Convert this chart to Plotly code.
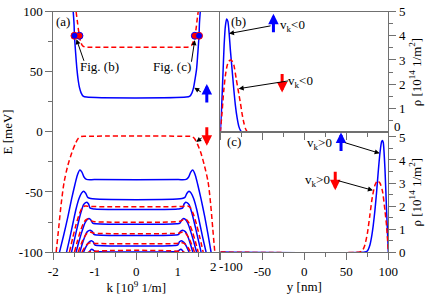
import plotly.graph_objects as go

W, H = 436, 299

# ---------------- Panel (a): E(k) bands ----------------
# spin-up (blue, solid)
up_k = [
    [-1.52, -1.50, -1.49, -1.46, -1.43, -1.40, -1.37, -1.33, -1.28, -1.20, 1.20, 1.29, 1.34, 1.38, 1.41, 1.45, 1.48, 1.51, 1.52, 1.54],
    [-1.85, -1.75, -1.65, -1.56, -1.48, -1.42, -1.36, -1.31, -1.26, -1.20, -1.00, 1.00, 1.20, 1.26, 1.31, 1.36, 1.42, 1.48, 1.56, 1.65, 1.72, 1.80],
    [-1.68, -1.60, -1.52, -1.45, -1.38, -1.32, -1.27, -1.22, -1.17, -1.10, 1.10, 1.17, 1.22, 1.27, 1.32, 1.38, 1.45, 1.52, 1.60, 1.68],
    [-1.56, -1.48, -1.40, -1.33, -1.27, -1.22, -1.19, -1.15, -1.11, -1.00, 1.00, 1.11, 1.15, 1.19, 1.22, 1.27, 1.33, 1.40, 1.48, 1.56],
    [-1.45, -1.38, -1.31, -1.24, -1.18, -1.13, -1.09, -1.05, -0.98, 0.98, 1.05, 1.09, 1.13, 1.18, 1.24, 1.31, 1.38, 1.45],
    [-1.36, -1.30, -1.24, -1.18, -1.11, -1.06, -1.02, -0.95, 0.95, 1.02, 1.06, 1.11, 1.18, 1.24, 1.30, 1.36],
    [-1.27, -1.21, -1.15, -1.08, -1.04, -1.00, -0.93, 0.93, 1.00, 1.04, 1.08, 1.15, 1.21, 1.27],
    [-1.15, -1.11, -1.07, -1.03, -0.98, -0.90, 0.90, 0.98, 1.03, 1.07, 1.11, 1.15],
]
up_E = [
    [100, 90, 80, 65, 52, 43, 37, 32.5, 29.8, 29, 29, 29.8, 32.5, 37, 43, 52, 65, 80, 90, 100],
    [-100, -86, -71, -56, -44, -36, -31.8, -33.5, -37.5, -39.5, -39.7, -39.7, -39.5, -37.5, -33.5, -31.8, -36, -44, -56, -71, -84, -100],
    [-100, -88, -75, -64, -55.5, -51, -49.4, -51, -54.5, -55.5, -55.5, -54.5, -51, -49.4, -51, -55.5, -64, -75, -88, -100],
    [-100, -88, -76, -66.5, -60.5, -58.8, -58.5, -60, -63.5, -64.2, -64.2, -63.5, -60, -58.5, -58.8, -60.5, -66.5, -76, -88, -100],
    [-100, -91, -83, -76, -72.8, -72.2, -73.5, -76, -76.5, -76.5, -76, -73.5, -72.2, -72.8, -76, -83, -91, -100],
    [-100, -93, -87, -83, -81.8, -83, -85.3, -85.8, -85.8, -85.3, -83, -81.8, -83, -87, -93, -100],
    [-100, -95.5, -92, -90.5, -91.5, -94, -94.5, -94.5, -94, -91.5, -90.5, -92, -95.5, -100],
    [-101, -98.6, -97.6, -98.6, -99.6, -99.8, -99.8, -99.6, -98.6, -97.6, -98.6, -101],
]
# spin-down (red, dashed)
dn_k = [
    [-1.45, -1.42, -1.39, -1.37, -1.34, -1.30, -1.24, -1.10, 1.10, 1.26, 1.33, 1.37, 1.41, 1.44, 1.46, 1.49],
    [-1.93, -1.87, -1.81, -1.74, -1.65, -1.55, -1.47, -1.40, -1.33, -1.20, 1.20, 1.33, 1.40, 1.47, 1.55, 1.64, 1.73, 1.79, 1.84, 1.89],
    [-1.61, -1.53, -1.45, -1.37, -1.30, -1.24, -1.18, -1.05, 1.05, 1.18, 1.24, 1.30, 1.37, 1.45, 1.53, 1.61],
    [-1.49, -1.42, -1.35, -1.28, -1.21, -1.15, -1.08, -1.00, 1.00, 1.08, 1.15, 1.21, 1.28, 1.35, 1.42, 1.49],
    [-1.40, -1.33, -1.26, -1.19, -1.12, -1.05, -0.98, 0.98, 1.05, 1.12, 1.19, 1.26, 1.33, 1.40],
    [-1.31, -1.24, -1.17, -1.10, -1.03, -0.96, 0.96, 1.03, 1.10, 1.17, 1.24, 1.31],
    [-1.20, -1.10, 1.10, 1.20],
]
dn_E = [
    [100, 92, 84, 80, 75, 72, 70.7, 70.5, 70.5, 70.7, 72, 75, 80, 86, 92, 100],
    [-100, -80, -60, -42, -28, -17, -10, -5.5, -3.8, -3.6, -3.6, -3.8, -5.5, -10, -17, -28, -42, -60, -80, -100],
    [-100, -88, -77, -68, -63, -61.6, -61.8, -62.1, -62.1, -61.8, -61.6, -63, -68, -77, -88, -100],
    [-100, -91, -83, -76.5, -73, -72.6, -74, -74.7, -74.7, -74, -72.6, -73, -76.5, -83, -91, -100],
    [-100, -93.5, -88, -84.5, -83.4, -84, -84.4, -84.4, -84, -83.4, -84.5, -88, -93.5, -100],
    [-100, -96, -93.2, -92.3, -92.7, -92.9, -92.9, -92.7, -92.3, -93.2, -96, -100],
    [-101, -99.6, -99.6, -101],
]
# marked states at E = 80 meV
dot_up_k = [-1.49, 1.51]
dot_up_E = [80, 80]
dot_dn_k = [-1.37, 1.41]
dot_dn_E = [80, 80]

# ---------------- Panels (b), (c): densities ----------------
b_up_y = [-100, -98.5, -97, -95.5, -94, -92.5, -91, -89.5, -88, -86, -84, -82, -80, -78, -76, -74, 100]
b_up_r = [0, 1.0, 2.3, 3.6, 4.4, 4.7, 4.6, 4.1, 3.4, 2.6, 1.8, 1.1, 0.6, 0.25, 0.08, 0.0, 0]
b_dn_y = [-100, -98, -96, -94, -92, -90, -87, -84, -81, -78, -76, -74, -72, -70, -68, -66, 100]
b_dn_r = [0, 0.8, 1.7, 2.35, 2.75, 2.95, 3.0, 2.8, 2.2, 1.6, 1.2, 0.75, 0.4, 0.15, 0.03, 0, 0]
c_up_y = [-100, 72, 75, 78, 80, 82, 84, 86, 88, 90, 92, 93, 94, 96, 98, 100]
c_up_r = [0, 0, 0.05, 0.3, 0.65, 1.15, 1.8, 2.6, 3.5, 4.3, 4.8, 4.85, 4.75, 3.6, 1.7, 0]
c_dn_y = [-100, 66, 69, 72, 75, 78, 81, 84, 87, 90, 93, 96, 98, 100]
c_dn_r = [0, 0, 0.05, 0.3, 0.8, 1.6, 2.4, 2.9, 3.1, 3.0, 2.65, 1.8, 1.1, 0]

# tick labels
k_ticks = [-2, -1, 0, 1, 2]
k_text = ["-2", "-1", "0", "1", ""]
E_ticks = [-100, -50, 0, 50, 100]
E_text = ["-100", "-50", "0", "50", "100"]
y_ticks = [-100, -50, 0, 50, 100]
y_text = ["", "-50", "0", "50", "100"]
rb_ticks = [1, 2, 3, 4, 5]
rc_ticks = [0, 1, 2, 3, 4, 5]

BLUE = "#0000ff"
RED = "#ff0000"
AX = "#707070"
FONT = "Liberation Serif"
LW = 1.5

fig = go.Figure()
for k, E in zip(up_k, up_E):
    fig.add_trace(go.Scatter(x=k, y=E, mode="lines", line=dict(color=BLUE, width=LW, shape="spline", smoothing=0.8),
                             xaxis="x", yaxis="y", showlegend=False))
for k, E in zip(dn_k, dn_E):
    fig.add_trace(go.Scatter(x=k, y=E, mode="lines", line=dict(color=RED, width=LW, dash="5px,3px", shape="spline", smoothing=0.8),
                             xaxis="x", yaxis="y", showlegend=False))
fig.add_trace(go.Scatter(x=dot_dn_k, y=dot_dn_E, mode="markers", marker=dict(color=RED, size=7, line=dict(color=BLUE, width=1)),
                         xaxis="x", yaxis="y", showlegend=False, cliponaxis=False))
fig.add_trace(go.Scatter(x=dot_up_k, y=dot_up_E, mode="markers", marker=dict(color=BLUE, size=7, line=dict(color=RED, width=1)),
                         xaxis="x", yaxis="y", showlegend=False, cliponaxis=False))

fig.add_trace(go.Scatter(x=b_up_y, y=b_up_r, mode="lines", line=dict(color=BLUE, width=LW, shape="spline", smoothing=0.6),
                         xaxis="x2", yaxis="y2", showlegend=False))
fig.add_trace(go.Scatter(x=b_dn_y, y=b_dn_r, mode="lines", line=dict(color=RED, width=LW, dash="5px,3px", shape="spline", smoothing=0.6),
                         xaxis="x2", yaxis="y2", showlegend=False))
fig.add_trace(go.Scatter(x=c_up_y, y=c_up_r, mode="lines", line=dict(color=BLUE, width=LW, shape="spline", smoothing=0.6),
                         xaxis="x3", yaxis="y3", showlegend=False))
fig.add_trace(go.Scatter(x=c_dn_y, y=c_dn_r, mode="lines", line=dict(color=RED, width=LW, dash="5px,3px", shape="spline", smoothing=0.6),
                         xaxis="x3", yaxis="y3", showlegend=False))

xa = [50 / W, 222 / W]
xb = [223 / W, 397 / W]
ya = [1 - 258 / H, 1 - 5 / H]
yb = [1 - 132 / H, 1 - 5 / H]
yc = [1 - 258 / H, 1 - 132 / H]

tickfont = dict(family=FONT, size=13, color="black")
common = dict(showline=True, linecolor=AX, linewidth=1, mirror=True, ticks="outside", tickcolor=AX,
              ticklen=7, tickwidth=1, showgrid=False, zeroline=False, tickfont=tickfont)

fig.update_layout(
    width=W, height=H, margin=dict(l=0, r=0, t=0, b=0),
    paper_bgcolor="white", plot_bgcolor="white",
    font=dict(family=FONT, size=13, color="black"),
    xaxis=dict(domain=xa, range=[-2, 2], anchor="y", tickmode="array", tickvals=k_ticks, ticktext=k_text,
               minor=dict(tickvals=[-1.5, -0.5, 0.5, 1.5], ticklen=4, ticks="outside", tickcolor=AX),
               title=dict(text="k [10<sup>9</sup> 1/m]", font=dict(family=FONT, size=13), standoff=2), **common),
    yaxis=dict(domain=ya, range=[-100, 100], anchor="x", tickmode="array", tickvals=E_ticks, ticktext=E_text,
               minor=dict(tickvals=[-75, -25, 25, 75], ticklen=4, ticks="outside", tickcolor=AX),
               title=dict(text="E [meV]", font=dict(family=FONT, size=13), standoff=3), **common),
    xaxis2=dict(domain=xb, range=[-100, 100], anchor="y2", tickmode="array", tickvals=y_ticks, showticklabels=False,
                minor=dict(tickvals=[-75, -25, 25, 75], ticklen=4, ticks="outside", tickcolor=AX), **common),
    yaxis2=dict(domain=yb, range=[0, 5], anchor="x2", side="right", tickmode="array", tickvals=rb_ticks,
                minor=dict(tickvals=[0.5, 1.5, 2.5, 3.5, 4.5], ticklen=4, ticks="outside", tickcolor=AX),
                title=dict(text="ρ [10<sup>14</sup> 1/m<sup>2</sup>]", font=dict(family=FONT, size=13), standoff=6), **common),
    xaxis3=dict(domain=xb, range=[-100, 100], anchor="y3", tickmode="array", tickvals=y_ticks, ticktext=y_text,
                minor=dict(tickvals=[-75, -25, 25, 75], ticklen=4, ticks="outside", tickcolor=AX),
                title=dict(text="y [nm]", font=dict(family=FONT, size=13), standoff=2), **common),
    yaxis3=dict(domain=yc, range=[0, 5.2], anchor="x3", side="right", tickmode="array", tickvals=rc_ticks,
                minor=dict(tickvals=[0.5, 1.5, 2.5, 3.5, 4.5], ticklen=4, ticks="outside", tickcolor=AX),
                title=dict(text="ρ [10<sup>14</sup> 1/m<sup>2</sup>]", font=dict(family=FONT, size=13), standoff=6), **common),
)

ann = []
def text(px, py, s, color="black", size=13):
    ann.append(dict(x=px / W, y=1 - py / H, xref="paper", yref="paper", text=s, showarrow=False,
                    font=dict(family=FONT, size=size, color=color), xanchor="center", yanchor="middle"))

def arrow(tx, ty, hx, hy, color="black", width=1, head=2, size=1.0):
    ann.append(dict(x=hx / W, y=1 - hy / H, xref="paper", yref="paper", ax=tx - hx, ay=ty - hy,
                    axref="pixel", ayref="pixel", text="", showarrow=True, arrowhead=head,
                    arrowsize=size, arrowwidth=width, arrowcolor=color, standoff=0, startstandoff=0))

# extra tick labels displaced like the original
text(216, 273, "2")
text(234, 273, "-100")
text(406, 126, "0")

# panel labels
text(60, 15, "(a)")
text(242, 15, "(b)")
text(237, 142, "(c)")
text(98, 63, "Fig. (b)")
text(173, 63, "Fig. (c)")
arrow(82, 57, 74, 34)
arrow(193, 58, 196.5, 35)
arrow(204, 90, 196, 85)
arrow(205, 137, 198, 142)
arrow(209, 101, 209, 81, color=BLUE, width=3, size=0.7)
arrow(209, 126, 209, 146, color=RED, width=3, size=0.7)

# panel (b)
text(298, 20, "v<sub>k</sub>&lt;0")
arrow(278, 27, 278, 7, color=BLUE, width=3, size=0.7)
arrow(275, 20, 232, 28)
text(306, 78, "v<sub>k</sub>&lt;0")
arrow(287, 70, 287, 90, color=RED, width=3, size=0.7)
arrow(293, 78, 242, 86)

# panel (c)
text(326, 144, "v<sub>k</sub>&gt;0")
arrow(348, 152, 348, 132, color=BLUE, width=3, size=0.7)
arrow(352, 143, 388, 154)
text(324, 183, "v<sub>k</sub>&gt;0")
arrow(342, 173, 342, 193, color=RED, width=3, size=0.7)
arrow(345, 183, 381, 193)

fig.update_layout(annotations=ann)
fig.write_html("out.html", config={"displayModeBar": False},
               post_script="document.body.style.margin='0';document.body.style.overflow='hidden';")
